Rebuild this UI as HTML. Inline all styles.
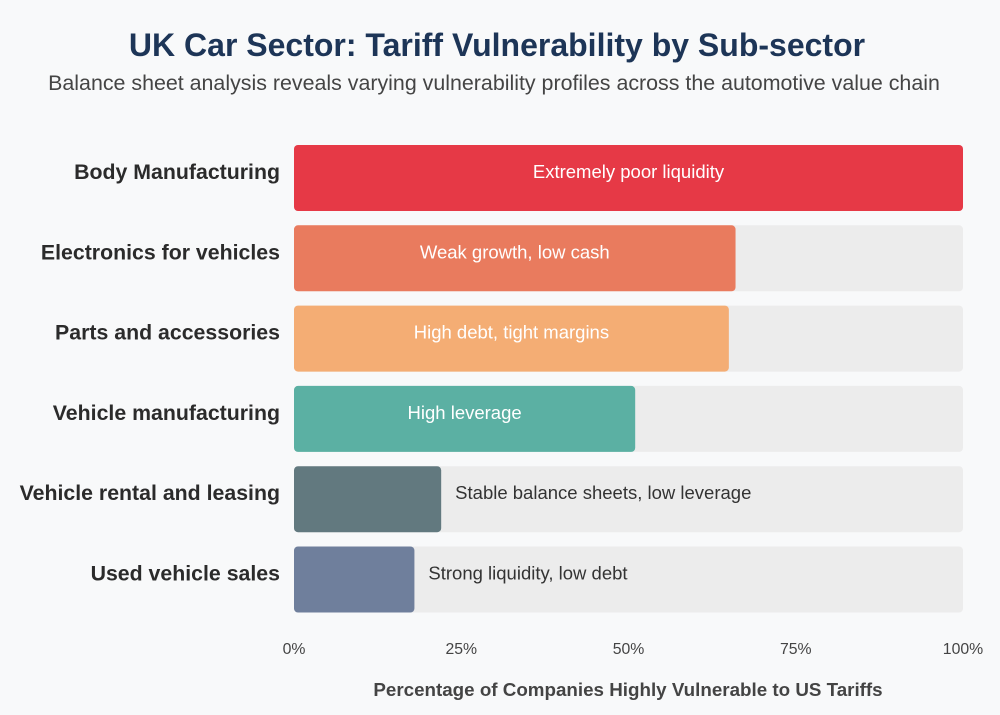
<!DOCTYPE html>
<html><head><meta charset="utf-8"><style>
body{margin:0;background:#f8f9fa;width:1000px;height:710px;overflow:hidden;font-family:"Liberation Sans",Arial,sans-serif}
</style></head><body>
<svg id="chart" width="1000" height="710">
<text x="497" y="56" text-anchor="middle" font-size="32" font-weight="bold" fill="#1d3557">UK Car Sector: Tariff Vulnerability by Sub-sector</text>
<text x="494" y="90" text-anchor="middle" font-size="21.4" fill="#444">Balance sheet analysis reveals varying vulnerability profiles across the automotive value chain</text>
<g id="bars"></g>
<g id="ticks"></g>
<text x="628" y="696" text-anchor="middle" font-size="18.8" font-weight="bold" fill="#444">Percentage of Companies Highly Vulnerable to US Tariffs</text>
</svg>
<script>
const categories=["Body Manufacturing","Electronics for vehicles","Parts and accessories","Vehicle manufacturing","Vehicle rental and leasing","Used vehicle sales"];
const values=[100,66,65,51,22,18];
const notes=["Extremely poor liquidity","Weak growth, low cash","High debt, tight margins","High leverage","Stable balance sheets, low leverage","Strong liquidity, low debt"];
const colors=["#e63946","#e97b5e","#f4ad74","#5bb0a3","#62797f","#6f7f9c"];
const tickValues=[0,25,50,75,100];
const tickLabels=["0%","25%","50%","75%","100%"];
const NS="http://www.w3.org/2000/svg";
const x0=294,x1=963;
const xs=v=>x0+(x1-x0)*v/100;
const ys=i=>145+i*80.3;
const bh=66;
function mk(tag,attrs,parent){const e=document.createElementNS(NS,tag);for(const k in attrs)e.setAttribute(k,attrs[k]);parent.appendChild(e);return e;}
const g=document.getElementById('bars');
categories.forEach((c,i)=>{
 const y=ys(i);
 const bg=mk('rect',{x:x0,y:y,width:x1-x0,height:bh,rx:4,fill:'#ececec'},g);
 
 
 const b=mk('rect',{x:x0,y:y,width:xs(values[i])-x0,height:bh,rx:4,fill:colors[i]},g);
 
 
 const l=mk('text',{x:280,y:y+bh/2+1,'text-anchor':'end','font-size':21.3,'font-weight':'bold',fill:'#2b2b2b'},g);
 l.textContent=c;
 
 
 const inside=values[i]>35;
 const t=mk('text',{x:inside?(x0+xs(values[i]))/2:xs(values[i])+14,y:y+bh/2,'text-anchor':inside?'middle':'start','font-size':18.5,fill:inside?'#fff':'#333'},g);
 t.textContent=notes[i];
 
 
});
const tg=document.getElementById('ticks');
tickValues.forEach((v,i)=>{
 const t=mk('text',{x:xs(v),y:654,'text-anchor':'middle','font-size':15.8,fill:'#444'},tg);
 t.textContent=tickLabels[i];
 
 
});
</script>
</body></html>
